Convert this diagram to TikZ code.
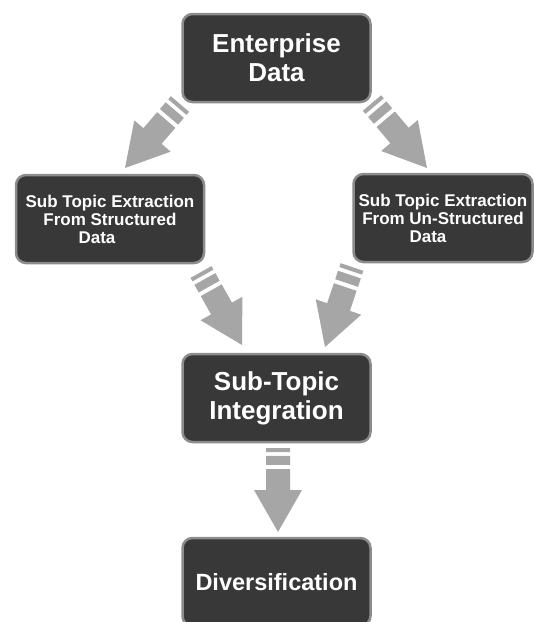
\documentclass[tikz,border=0pt]{standalone}
\usepackage{fontspec}
\setmainfont{Liberation Sans}
\usetikzlibrary{calc}
\definecolor{boxfill}{HTML}{383838}
\definecolor{boxline}{HTML}{8C8C8C}
\definecolor{arrowgray}{HTML}{A6A6A6}
% point along an arrow: fraction of the way, side offset
\newcommand\arrpt[2]{($(\tikztostart)!#1!(\tikztotarget)!#2!90:(\tikztotarget)$)}

\begin{document}
\begin{tikzpicture}[
    x=1pt, y=-1pt,
    box/.style={draw=boxline, fill=boxfill, line width=2.5pt, rounded corners=10pt,
        text=white, font=\bfseries\fontsize{26}{29}\selectfont, align=center,
        minimum width=188pt, minimum height=88pt, inner sep=2pt},
    subbox/.style={box, font=\bfseries\fontsize{17}{18}\selectfont},
    fat arrow/.style={draw=none, fill=arrowgray, to path={
        \arrpt{0}{12pt} -- \arrpt{0.048}{12pt} -- \arrpt{0.048}{-12pt} -- \arrpt{0}{-12pt} -- cycle
        \arrpt{0.095}{12pt} -- \arrpt{0.2}{12pt} -- \arrpt{0.2}{-12pt} -- \arrpt{0.095}{-12pt} -- cycle
        \arrpt{0.25}{12pt} -- \arrpt{0.5}{12pt} -- \arrpt{0.5}{24pt} -- (\tikztotarget)
            -- \arrpt{0.5}{-24pt} -- \arrpt{0.5}{-12pt} -- \arrpt{0.25}{-12pt} -- cycle}},
]
\clip (0,0) rectangle (534,622);
\node[box] (enterprise) at (276.5,58) {Enterprise\\Data};
\node[subbox] (sub-s) at (110,219) {Sub Topic Extraction\\From Structured\\Data\hspace*{26pt}};
\node[subbox, minimum width=179pt, inner xsep=3pt] (sub-u) at (443,218) {Sub Topic Extraction\\From Un-Structured\\Data\hspace*{30pt}};
\node[box] (integ) at (276.5,398) {Sub-Topic\\Integration};
\node[box, font=\bfseries\fontsize{23.5}{26}\selectfont] (divers) at (276.5,582) {Diversification};
% arrow ends
\coordinate (tail-1) at (180,104);
\coordinate (tip-1) at (125,168);
\coordinate (tail-2) at (372,103);
\coordinate (tip-2) at (427,168);
\coordinate (tail-3) at (201,272);
\coordinate (tip-3) at (242,345);
\coordinate (tail-4) at (352,267);
\coordinate (tip-4) at (325,347);
\coordinate (tail-5) at (278,448);
\coordinate (tip-5) at (278,532);
\path
    (tail-1) edge[fat arrow] (tip-1)
    (tail-2) edge[fat arrow] (tip-2)
    (tail-3) edge[fat arrow] (tip-3)
    (tail-4) edge[fat arrow] (tip-4)
    (tail-5) edge[fat arrow] (tip-5);
\end{tikzpicture}
\end{document}
